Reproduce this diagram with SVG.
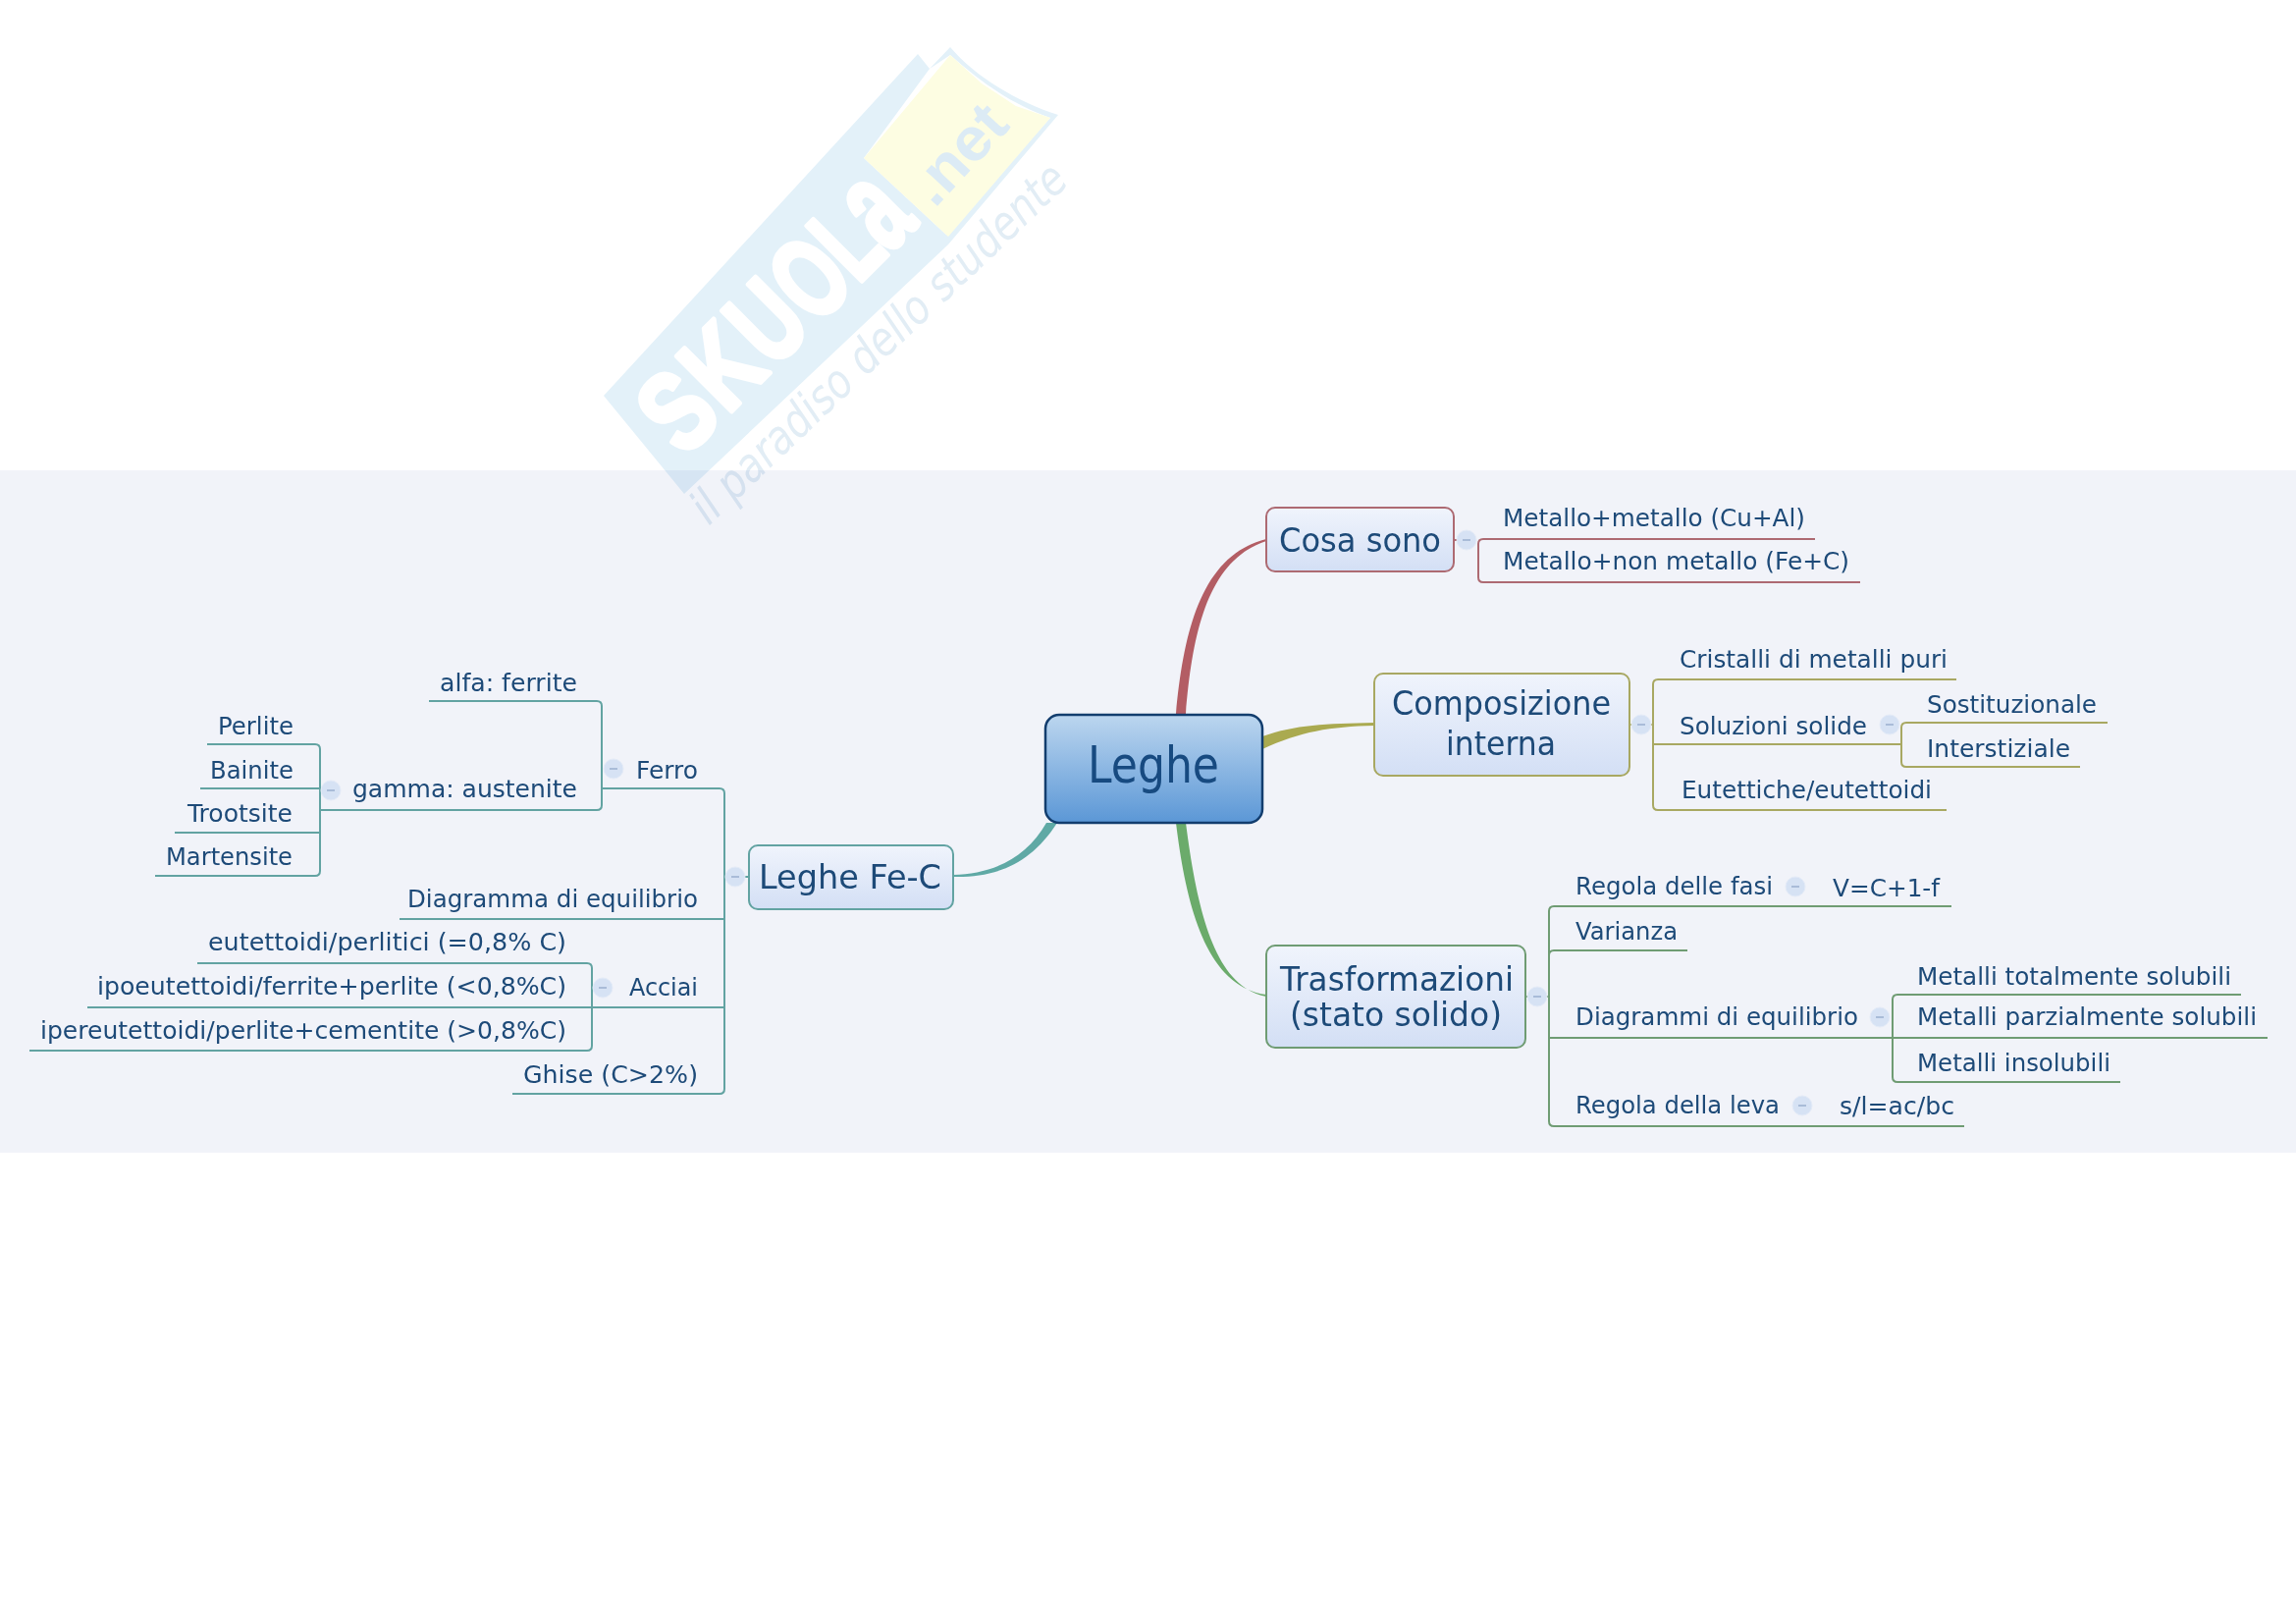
<svg xmlns="http://www.w3.org/2000/svg" width="2339" height="1654" viewBox="0 0 2339 1654">
<style>
text{font-family:"DejaVu Sans","Liberation Sans",sans-serif;fill:#1d4a78}
.l{font-size:24px;transform:translate(0,1px)}.t{font-size:33px;transform:translate(0,1px)}.r{font-size:52px;fill:#174a80}
.w{fill:none;stroke-width:2}
.red{stroke:#ad6a72}.oli{stroke:#a8a862}.grn{stroke:#6f9c73}.tea{stroke:#62a3a2}
.n{fill:url(#ng);stroke-width:2}
.f{fill:#d6e2f4;stroke:#e4ebf7;stroke-width:1}
.m{stroke:#a9bcd8;stroke-width:2}
text.wm{font-family:"Liberation Sans",sans-serif;font-weight:bold;fill:#ffffff;stroke:#ffffff;stroke-width:5;stroke-linejoin:round}
</style>
<defs>
<linearGradient id="ng" x1="0" y1="0" x2="0" y2="1"><stop offset="0" stop-color="#f0f4fc"/><stop offset="1" stop-color="#d3dff5"/></linearGradient>
<linearGradient id="rg" x1="0" y1="0" x2="0" y2="1"><stop offset="0" stop-color="#bcd6ef"/><stop offset="1" stop-color="#5b97d6"/></linearGradient>
<g id="c"><circle r="10" class="f"/><line x1="-4" x2="4" y1="0" y2="0" class="m"/></g>
</defs>
<rect width="2339" height="1654" fill="#ffffff"/>
<rect id="band" x="0" y="479" width="2339" height="695" fill="#f1f3f9"/>
<g id="watermark" style="mix-blend-mode:multiply">
<polygon points="615,403 935,55 947,70 880,161 966,241 966,249 697,503" fill="#e3f1f9"/>
<path d="M947,70 L968,48 C995,80 1040,105 1078,117 L966,249 L960,243 L1070,120 C1035,108 1000,85 968,56 Z" fill="#e3f1f9"/>
<polygon points="968,56 1000,85 1035,108 1070,120 966,241 880,161" fill="#fdfde2"/>
<g transform="translate(697,467) rotate(-45)">
<text class="wm" transform="scale(.76,1)" x="0" y="0" font-size="115">S</text>
<text class="wm" transform="translate(62,0) scale(.76,1)" x="0" y="0" font-size="115">K</text>
<text class="wm" transform="translate(128,0) scale(.72,1)" x="0" y="0" font-size="115">U</text>
<text class="wm" transform="translate(190,0) scale(.68,1)" x="0" y="0" font-size="115">O</text>
<text class="wm" transform="translate(250,0) scale(.66,1)" x="0" y="0" font-size="115">L</text>
<text class="wm" transform="translate(294,0) scale(.6,1)" x="0" y="0" font-size="135">a</text>
</g>
<text transform="rotate(-47 952 213)" x="952" y="213" font-size="62" font-weight="bold" textLength="115" lengthAdjust="spacingAndGlyphs" style="fill:#dcebf5;font-family:'Liberation Sans',sans-serif">.net</text>
<text transform="rotate(-43.5 722 536)" x="722" y="536" font-size="48" font-style="italic" textLength="508" lengthAdjust="spacingAndGlyphs" style="fill:#e2edf5">il paradiso dello studente</text>
</g>
<g id="connectors">
<path d="M1198,727 C1206,640 1225,565 1290,549 L1290,551 C1232,570 1215,640 1208,727 Z" fill="#b35d64"/>
<path d="M1286,750 C1320,738 1350,737 1400,736 L1400,739 C1355,740 1325,745 1286,763 Z" fill="#aaaa50"/>
<path d="M1198,838 C1208,920 1228,1005 1290,1013 L1290,1015 C1238,1005 1220,930 1208,838 Z" fill="#6bab6b"/>
<path d="M1066,838 C1045,875 1010,890 971,891 L971,893 C1015,894 1050,880 1077,838 Z" fill="#5fa9a5"/>
<path class="w red" d="M1481,550 H1486 M1849,549 H1511 Q1506,549 1506,554 V588 Q1506,593 1511,593 H1895"/>
<path class="w oli" d="M1660,738 H1664 M1680,738 H1684 M1993,692 H1689 Q1684,692 1684,697 V820 Q1684,825 1689,825 H1983 M1684,758 H1937 M2147,736 H1942 Q1937,736 1937,741 V776 Q1937,781 1942,781 H2119"/>
<path class="w grn" d="M1554,1015 H1558 M1574,1015 H1578 M1988,923 H1583 Q1578,923 1578,928 V1142 Q1578,1147 1583,1147 H2001 M1719,968 H1583 Q1578,968 1578,973 M1578,1057 H2310 M2283,1013 H1933 Q1928,1013 1928,1018 V1097 Q1928,1102 1933,1102 H2160"/>
<path class="w tea" d="M763,893 H757 M741,893 H738 M613,803 H733 Q738,803 738,808 V1109 Q738,1114 733,1114 H522 M407,936 H738 M89,1026 H738 M201,981 H598 Q603,981 603,986 V1065 Q603,1070 598,1070 H30 M437,714 H608 Q613,714 613,719 V820 Q613,825 608,825 H326 M211,758 H321 Q326,758 326,763 V887 Q326,892 321,892 H158 M204,803 H326 M178,848 H326"/>
</g>
<g id="root"><rect x="1065" y="728" width="221" height="110" rx="14" fill="url(#rg)" stroke="#123d6e" stroke-width="2.5"/><text class="r" x="1108" y="797" textLength="134" lengthAdjust="spacingAndGlyphs">Leghe</text></g>
<g id="cosa"><rect class="n" x="1290" y="517" width="191" height="65" rx="9" stroke="#ad6a72"/><text class="t" x="1303" y="561" textLength="165" lengthAdjust="spacingAndGlyphs">Cosa sono</text><use href="#c" x="1494" y="550"/></g>
<g id="m1"><text class="l" x="1531" y="535" textLength="308" lengthAdjust="spacingAndGlyphs">Metallo+metallo (Cu+Al)</text></g>
<g id="m2"><text class="l" x="1531" y="579" textLength="353" lengthAdjust="spacingAndGlyphs">Metallo+non metallo (Fe+C)</text></g>
<g id="comp"><rect class="n" x="1400" y="686" width="260" height="104" rx="9" stroke="#a8a862"/><text class="t" x="1418" y="727" textLength="223" lengthAdjust="spacingAndGlyphs">Composizione</text><text class="t" x="1473" y="768" textLength="112" lengthAdjust="spacingAndGlyphs">interna</text><use href="#c" x="1672" y="738"/></g>
<g id="c1"><text class="l" x="1711" y="679" textLength="273" lengthAdjust="spacingAndGlyphs">Cristalli di metalli puri</text></g>
<g id="c2"><text class="l" x="1711" y="747" textLength="191" lengthAdjust="spacingAndGlyphs">Soluzioni solide</text><use href="#c" x="1925" y="738"/></g>
<g id="c21"><text class="l" x="1963" y="725" textLength="173" lengthAdjust="spacingAndGlyphs">Sostituzionale</text></g>
<g id="c22"><text class="l" x="1963" y="770" textLength="146" lengthAdjust="spacingAndGlyphs">Interstiziale</text></g>
<g id="c3"><text class="l" x="1713" y="812" textLength="255" lengthAdjust="spacingAndGlyphs">Eutettiche/eutettoidi</text></g>
<g id="tras"><rect class="n" x="1290" y="963" width="264" height="104" rx="9" stroke="#6f9c73"/><text class="t" x="1304" y="1008" textLength="238" lengthAdjust="spacingAndGlyphs">Trasformazioni</text><text class="t" x="1314" y="1044" textLength="216" lengthAdjust="spacingAndGlyphs">(stato solido)</text><use href="#c" x="1566" y="1015"/></g>
<g id="t1"><text class="l" x="1605" y="910" textLength="201" lengthAdjust="spacingAndGlyphs">Regola delle fasi</text><use href="#c" x="1829" y="903"/></g>
<g id="t11"><text class="l" x="1867" y="912" textLength="109" lengthAdjust="spacingAndGlyphs">V=C+1-f</text></g>
<g id="t2"><text class="l" x="1605" y="956" textLength="104" lengthAdjust="spacingAndGlyphs">Varianza</text></g>
<g id="t3"><text class="l" x="1605" y="1043" textLength="288" lengthAdjust="spacingAndGlyphs">Diagrammi di equilibrio</text><use href="#c" x="1915" y="1036"/></g>
<g id="t31"><text class="l" x="1953" y="1002" textLength="320" lengthAdjust="spacingAndGlyphs">Metalli totalmente solubili</text></g>
<g id="t32"><text class="l" x="1953" y="1043" textLength="346" lengthAdjust="spacingAndGlyphs">Metalli parzialmente solubili</text></g>
<g id="t33"><text class="l" x="1953" y="1090" textLength="197" lengthAdjust="spacingAndGlyphs">Metalli insolubili</text></g>
<g id="t4"><text class="l" x="1605" y="1133" textLength="208" lengthAdjust="spacingAndGlyphs">Regola della leva</text><use href="#c" x="1836" y="1126"/></g>
<g id="t41"><text class="l" x="1874" y="1134" textLength="117" lengthAdjust="spacingAndGlyphs">s/l=ac/bc</text></g>
<g id="fec"><rect class="n" x="763" y="861" width="208" height="65" rx="9" stroke="#62a3a2"/><text class="t" x="773" y="904" textLength="186" lengthAdjust="spacingAndGlyphs">Leghe Fe-C</text><use href="#c" x="749" y="893"/></g>
<g id="ferro"><text class="l" x="648" y="792" textLength="63" lengthAdjust="spacingAndGlyphs">Ferro</text><use href="#c" x="625" y="783"/></g>
<g id="alfa"><text class="l" x="448" y="703" textLength="140" lengthAdjust="spacingAndGlyphs">alfa: ferrite</text></g>
<g id="gamma"><text class="l" x="359" y="811" textLength="229" lengthAdjust="spacingAndGlyphs">gamma: austenite</text><use href="#c" x="337" y="805"/></g>
<g id="perlite"><text class="l" x="222" y="747" textLength="77" lengthAdjust="spacingAndGlyphs">Perlite</text></g>
<g id="bainite"><text class="l" x="214" y="792" textLength="85" lengthAdjust="spacingAndGlyphs">Bainite</text></g>
<g id="trootsite"><text class="l" x="191" y="836" textLength="107" lengthAdjust="spacingAndGlyphs">Trootsite</text></g>
<g id="martensite"><text class="l" x="169" y="880" textLength="129" lengthAdjust="spacingAndGlyphs">Martensite</text></g>
<g id="dia"><text class="l" x="415" y="923" textLength="296" lengthAdjust="spacingAndGlyphs">Diagramma di equilibrio</text></g>
<g id="acciai"><text class="l" x="641" y="1013" textLength="70" lengthAdjust="spacingAndGlyphs">Acciai</text><use href="#c" x="614" y="1006"/></g>
<g id="a1"><text class="l" x="212" y="967" textLength="365" lengthAdjust="spacingAndGlyphs">eutettoidi/perlitici (=0,8% C)</text></g>
<g id="a2"><text class="l" x="99" y="1012" textLength="478" lengthAdjust="spacingAndGlyphs">ipoeutettoidi/ferrite+perlite (&lt;0,8%C)</text></g>
<g id="a3"><text class="l" x="41" y="1057" textLength="536" lengthAdjust="spacingAndGlyphs">ipereutettoidi/perlite+cementite (&gt;0,8%C)</text></g>
<g id="ghise"><text class="l" x="533" y="1102" textLength="178" lengthAdjust="spacingAndGlyphs">Ghise (C&gt;2%)</text></g>
</svg>
